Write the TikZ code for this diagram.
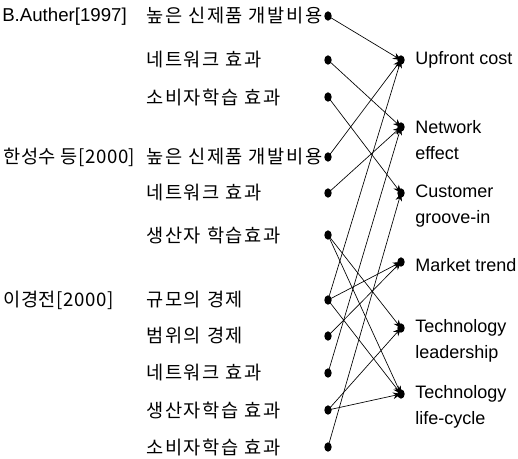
\documentclass[tikz,border=0pt]{standalone}
\usepackage{fontspec}
\setmainfont{Liberation Sans}
\newfontfamily\kofont[LetterSpace=9]{Noto Sans CJK KR}
\newfontfamily\kogroupfont[LetterSpace=3]{Noto Sans CJK KR}
\usepackage{tikz}
\usetikzlibrary{arrows.meta, shapes.geometric}
\tikzset{
  lbl/.style={anchor=west, inner sep=0pt, align=left, font=\fontsize{13.5}{19.5}\selectfont},
  kor/.style={anchor=west, inner sep=0pt, font=\kofont\fontsize{14}{19.5}\selectfont},
  grp/.style={anchor=west, inner sep=0pt, font=\kogroupfont\fontsize{14}{19.5}\selectfont},
  pin/.style={ellipse, fill=black, inner sep=0pt, minimum width=5.5pt, minimum height=7pt},
  link/.style={-{Stealth[length=6pt, width=5pt]}, line width=0.5pt}
}

\begin{document}
\begin{tikzpicture}[x=0.75pt, y=-0.75pt]
\useasboundingbox (0,0) rectangle (518,458);

% sources (left)
\node[grp] (g1) at (2,17) {\fontspec{Liberation Sans}B.Auther[1997]};
\node[grp] (g2) at (3,157) {한성수 등[2000]};
\node[grp] (g3) at (3,300) {이경전[2000]};

\foreach \i/\y/\label in {1/16/높은 신제품 개발비용, 2/60/네트워크 효과, 3/97/소비자학습 효과,
  4/157/높은 신제품 개발비용, 5/193/네트워크 효과, 6/235/생산자 학습효과,
  7/300/규모의 경제, 8/336/범위의 경제, 9/373/네트워크 효과,
  10/410/생산자학습 효과, 11/447/소비자학습 효과} {
  \node[kor] (t\i) at (146,\y) {\label};
  \node[pin] (l\i) at (328,\y) {};
}

% factors (right)
\foreach \j/\y in {1/60, 2/127, 3/193, 4/262, 5/328, 6/394} {
  \node[pin] (r\j) at (401,\y) {};
}
\node[lbl] (f1) at (415,60) {Upfront cost};
\node[lbl] (f2) at (415,140) {Network\\effect};
\node[lbl] (f3) at (415,206) {Customer\\groove-in};
\node[lbl] (f4) at (415,265) {Market trend};
\node[lbl] (f5) at (415,341) {Technology\\leadership};
\node[lbl] (f6) at (415,407) {Technology\\life-cycle};

% links
\foreach \a/\b in {1/1, 2/2, 3/3, 4/1, 5/2, 6/5, 6/6, 7/1, 7/4, 7/6, 8/4, 9/2, 10/5, 10/6, 11/3}
  \draw[link] (l\a.center) -- (r\b.center);
\end{tikzpicture}
\end{document}
